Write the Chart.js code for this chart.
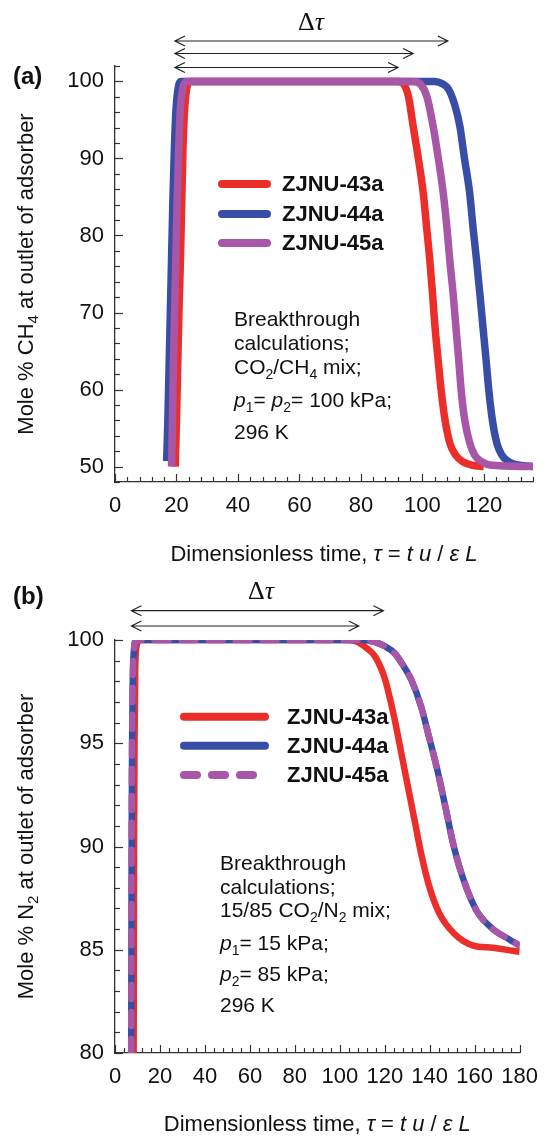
<!DOCTYPE html>
<html>
<head>
<meta charset="utf-8">
<title>Breakthrough curves</title>
<script src="https://cdn.jsdelivr.net/npm/chart.js@4.4.1/dist/chart.umd.min.js"></script>
<style>
  body { margin: 0; background: #fff; }
  #wrap { position: relative; width: 549px; height: 1136px; }
  canvas { position: absolute; left: 0; }
  #chartA { top: 0; }
  #chartB { top: 570px; }
</style>
</head>
<body>
<div id="wrap">
  <canvas id="chartA" width="549" height="570"></canvas>
  <canvas id="chartB" width="549" height="566"></canvas>
</div>
<script>
// series names (same three MOFs in both panels)
let seriesNames = ["ZJNU-43a", "ZJNU-44a", "ZJNU-45a"];

// Panel (a): CO2/CH4 mix, mole % CH4 at outlet vs dimensionless time
let tauA_43 = [19.6, 20.0, 20.4, 20.8, 21.3, 21.7, 22.1, 22.6, 23.3, 24.5, 92, 94, 95.5, 97, 98.7, 100.3, 101.4, 102.4, 103.3, 104.1, 105.1, 106.2, 107.4, 108.9, 110.8, 113.3, 116, 120];
let molA_43 = [50, 56, 63, 70, 77, 84, 91, 96, 99, 100, 100, 99.6, 98, 94.2, 90, 85.5, 81, 76.9, 72.5, 68.2, 64, 59.6, 56, 53.1, 51.5, 50.6, 50.2, 50];

let tauA_44 = [16.8, 17.2, 17.6, 18.0, 18.4, 18.8, 19.3, 19.8, 20.5, 21.5, 104, 106.5, 108.5, 110.5, 112.2, 113.7, 115.4, 116.5, 117.6, 118.7, 119.7, 120.7, 121.7, 122.8, 124.2, 125.7, 127.5, 130, 133, 136];
let molA_44 = [50.7, 56, 63, 70, 77, 84, 91, 96, 99, 100, 100, 99.7, 99, 97, 94.2, 90, 85.5, 81, 76.9, 72.5, 68.2, 64, 59.6, 56, 53.1, 51.6, 50.8, 50.3, 50.1, 50];

let tauA_45 = [18.4, 18.7, 19.0, 19.4, 19.8, 20.2, 20.7, 21.2, 22.0, 23.2, 97, 99.5, 101.5, 103.5, 105.2, 106.8, 108, 108.9, 110, 110.9, 111.8, 112.7, 113.8, 115.4, 117, 119.5, 122, 136];
let molA_45 = [50, 56, 63, 70, 77, 84, 91, 96, 99, 100, 100, 99.6, 98, 94.2, 90, 85.5, 81, 76.9, 72.5, 68.2, 64, 59.6, 56, 53.1, 51.5, 50.6, 50.2, 50];

// Panel (b): 15/85 CO2/N2 mix, mole % N2 at outlet
let tauB_43 = [8.3, 8.4, 8.5, 8.7, 9.0, 9.6, 11, 104, 108, 112, 115.7, 120.1, 124.5, 127.4, 130.3, 133.2, 136.1, 139.7, 144.1, 150.7, 159.4, 168.1, 176.9, 180];
let molB_43 = [80, 85, 90, 95, 98.5, 99.7, 100, 100, 99.9, 99.6, 99.2, 98.1, 96.1, 94.5, 92.9, 91.3, 89.7, 88.1, 86.8, 85.8, 85.2, 85.1, 84.95, 84.9];

let tauB_44 = [7.2, 7.3, 7.4, 7.6, 7.9, 8.4, 9.5, 110, 115.7, 120, 124.5, 128, 131.7, 136.1, 139.7, 143.4, 147, 150.7, 155, 160.8, 168.1, 175.4, 180];
let molB_44 = [80, 85, 90, 95, 98, 99.5, 100, 100, 99.9, 99.7, 99.35, 98.8, 98.1, 96.8, 95.3, 93.7, 91.9, 90, 88.4, 86.9, 86, 85.5, 85.2];

let tauB_45 = [7.2, 7.3, 7.4, 7.6, 7.9, 8.4, 9.5, 110, 115.7, 120, 124.5, 128, 131.7, 136.1, 139.7, 143.4, 147, 150.7, 155, 160.8, 168.1, 175.4, 180];
let molB_45 = [80, 85, 90, 95, 98, 99.5, 100, 100, 99.9, 99.7, 99.35, 98.8, 98.1, 96.8, 95.3, 93.7, 91.9, 90, 88.4, 86.9, 86, 85.5, 85.2];

// tick labels (minor ticks have no label)
let xLabelsA = [0, 20, 40, 60, 80, 100, 120];
let yLabelsA = [50, 60, 70, 80, 90, 100];
let xLabelsB = [0, 20, 40, 60, 80, 100, 120, 140, 160, 180];
let yLabelsB = [80, 85, 90, 95, 100];

const SANS = 'Arial, "Liberation Sans", sans-serif';
const SERIF = '"Times New Roman", "Liberation Serif", serif';

window.chartColors = {
  red: 'rgb(236, 46, 42)',
  blue: 'rgb(56, 78, 166)',
  purple: 'rgb(167, 86, 168)',
};

Chart.defaults.font.family = SANS;
Chart.defaults.color = '#111';

function toPoints(xs, ys) {
  return xs.map((x, i) => ({ x: x, y: ys[i] }));
}

// font for one piece of rich text
function fontFor(style, size) {
  if (style === 'i') return 'italic ' + size + 'px ' + SANS;
  if (style === 'b') return 'bold ' + size + 'px ' + SANS;
  if (style === 'sub') return Math.round(size * 0.68) + 'px ' + SANS;
  if (style === 'serif') return size + 'px ' + SERIF;
  if (style === 'iserif') return 'italic ' + size + 'px ' + SERIF;
  return size + 'px ' + SANS;
}

// draws [text, style] pieces in a row, y = middle of the normal text
function drawRich(ctx, parts, x, y, size, align) {
  let w = 0;
  parts.forEach(p => { ctx.font = fontFor(p[1], size); w += ctx.measureText(p[0]).width; });
  let cx = align === 'center' ? x - w / 2 : x;
  ctx.textAlign = 'left';
  ctx.textBaseline = 'middle';
  parts.forEach(p => {
    ctx.font = fontFor(p[1], size);
    let dy = p[1] === 'sub' ? size * 0.32 : 0;
    ctx.fillText(p[0], cx, y + dy);
    cx += ctx.measureText(p[0]).width;
  });
}

// double headed arrow with open heads
function arrow(ctx, x1, x2, y) {
  ctx.beginPath();
  ctx.moveTo(x1, y); ctx.lineTo(x2, y);
  ctx.moveTo(x1 + 10, y - 5); ctx.lineTo(x1, y); ctx.lineTo(x1 + 10, y + 5);
  ctx.moveTo(x2 - 10, y - 5); ctx.lineTo(x2, y); ctx.lineTo(x2 - 10, y + 5);
  ctx.stroke();
}

// tick marks pointing into the plot
const inwardTicks = {
  id: 'inwardTicks',
  beforeDatasetsDraw(chart, args, opts) {
    const ctx = chart.ctx;
    const xs = chart.scales.x, ys = chart.scales.y;
    ctx.save();
    ctx.strokeStyle = '#333';
    ctx.lineWidth = 1.2;
    xs.ticks.forEach(t => {
      const px = Math.round(xs.getPixelForValue(t.value)) + 0.5;
      const len = t.value % opts.majorX === 0 ? 8 : 5;
      ctx.beginPath(); ctx.moveTo(px, ys.bottom); ctx.lineTo(px, ys.bottom - len); ctx.stroke();
    });
    ys.ticks.forEach(t => {
      const py = Math.round(ys.getPixelForValue(t.value)) + 0.5;
      const len = t.value % opts.majorY === 0 ? 8 : 5;
      ctx.beginPath(); ctx.moveTo(xs.left, py); ctx.lineTo(xs.left + len, py); ctx.stroke();
    });
    ctx.restore();
  }
};

// labels, arrows, legend and notes drawn on top
const decor = {
  id: 'decor',
  afterDraw(chart, args, cfg) {
    const ctx = chart.ctx;
    const xs = chart.scales.x, ys = chart.scales.y;
    ctx.save();
    ctx.fillStyle = '#111';

    // panel letter
    ctx.font = 'bold 24px ' + SANS;
    ctx.textAlign = 'left';
    ctx.textBaseline = 'middle';
    ctx.fillText(cfg.panel, 13, cfg.panelY);

    // delta tau with arrows
    drawRich(ctx, [['\u0394', 'serif'], ['\u03c4', 'iserif']], cfg.dtX, cfg.dtY, 26, 'center');
    ctx.strokeStyle = '#222';
    ctx.lineWidth = 1.2;
    cfg.arrows.forEach(a => arrow(ctx, xs.getPixelForValue(a[0]), xs.getPixelForValue(a[1]), a[2]));

    // legend
    chart.data.datasets.forEach((ds, i) => {
      const y = cfg.legendY[i];
      const lw = 8;
      ctx.strokeStyle = ds.borderColor;
      ctx.lineWidth = lw;
      ctx.lineCap = 'round';
      ctx.setLineDash(ds.borderDash ? [13, 15] : []);
      ctx.beginPath();
      ctx.moveTo(cfg.legendX[0] + lw / 2, y);
      ctx.lineTo(cfg.legendX[1] - lw / 2, y);
      ctx.stroke();
      ctx.setLineDash([]);
      ctx.font = 'bold 22px ' + SANS;
      ctx.fillText(ds.label, cfg.legendX[2], y + 1);
    });

    // notes
    cfg.notes.forEach(n => drawRich(ctx, n[1], cfg.noteX, n[0], 21, 'left'));

    // axis titles
    let xTitle = [['Dimensionless time, ', ''], ['\u03c4', 'i'], [' = ', ''], ['t u', 'i'], [' / ', ''], ['\u03b5 L', 'i']];
    drawRich(ctx, xTitle, (xs.left + xs.right) / 2, cfg.xTitleY, 22, 'center');
    ctx.translate(27, (ys.top + ys.bottom) / 2);
    ctx.rotate(-Math.PI / 2);
    drawRich(ctx, cfg.yTitle, 0, 0, 22, 'center');
    ctx.restore();
  }
};

function axisOptions(min, max, step, labels, padding, fit) {
  return {
    type: 'linear',
    min: min,
    max: max,
    border: { display: true, color: '#333', width: 1.3 },
    grid: { display: false, drawTicks: false, tickLength: 0 },
    ticks: {
      stepSize: step,
      autoSkip: false,
      maxRotation: 0,
      padding: padding,
      color: '#111',
      font: { size: 22 },
      callback: (v) => labels.includes(v) ? String(v) : '',
    },
    afterFit: fit,
  };
}

function lineSet(name, xs, ys, color, width, order, dash) {
  return {
    label: name,
    data: toPoints(xs, ys),
    borderColor: color,
    backgroundColor: color,
    borderWidth: width,
    borderDash: dash,
    borderCapStyle: dash ? 'round' : 'butt',
    borderJoinStyle: 'round',
    pointRadius: 0,
    cubicInterpolationMode: 'monotone',
    fill: false,
    order: order,
  };
}

let ctxA = document.getElementById('chartA').getContext('2d');
let ctxB = document.getElementById('chartB').getContext('2d');

var chartA = new Chart(ctxA, {
  type: 'line',
  data: {
    datasets: [
      lineSet(seriesNames[0], tauA_43, molA_43, window.chartColors.red, 7.5, 1),
      lineSet(seriesNames[1], tauA_44, molA_44, window.chartColors.blue, 7.5, 2),
      lineSet(seriesNames[2], tauA_45, molA_45, window.chartColors.purple, 7.5, 0),
    ]
  },
  options: {
    responsive: false,
    animation: false,
    layout: { padding: { top: 66, left: 0, right: 16, bottom: 0 } },
    scales: {
      x: axisOptions(0, 136, 4, xLabelsA, 11, (s) => { s.height = 88; }),
      y: axisOptions(48, 102, 2, yLabelsA, 11, (s) => { s.width = 115; }),
    },
    plugins: {
      legend: { display: false },
      tooltip: { enabled: false },
      inwardTicks: { majorX: 20, majorY: 10 },
      decor: {
        panel: '(a)', panelY: 77,
        dtX: 311, dtY: 23,
        arrows: [[19.5, 108.3, 41], [19.5, 97, 53.5], [19.5, 92.1, 67.5]],
        legendX: [218, 271, 282], legendY: [184, 214, 243],
        noteX: 234,
        notes: [
          [320, [['Breakthrough', '']]],
          [344, [['calculations;', '']]],
          [368, [['CO', ''], ['2', 'sub'], ['/CH', ''], ['4', 'sub'], [' mix;', '']]],
          [401, [['p', 'i'], ['1', 'sub'], ['= ', ''], ['p', 'i'], ['2', 'sub'], ['= 100 kPa;', '']]],
          [433, [['296 K', '']]],
        ],
        xTitleY: 555,
        yTitle: [['Mole % CH', ''], ['4', 'sub'], [' at outlet of adsorber', '']],
      },
    }
  },
  plugins: [inwardTicks, decor]
});

var chartB = new Chart(ctxB, {
  type: 'line',
  data: {
    datasets: [
      lineSet(seriesNames[0], tauB_43, molB_43, window.chartColors.red, 6.5, 2),
      lineSet(seriesNames[1], tauB_44, molB_44, window.chartColors.blue, 6.5, 1),
      lineSet(seriesNames[2], tauB_45, molB_45, window.chartColors.purple, 6.5, 0, [14, 13]),
    ]
  },
  options: {
    responsive: false,
    animation: false,
    layout: { padding: { top: 70, left: 0, right: 20, bottom: 0 } },
    scales: {
      x: axisOptions(0, 180, 4, xLabelsB, 11, (s) => { s.height = 83; }),
      y: axisOptions(80, 100, 1, yLabelsB, 11, (s) => { s.width = 115; }),
    },
    plugins: {
      legend: { display: false },
      tooltip: { enabled: false },
      inwardTicks: { majorX: 20, majorY: 5 },
      decor: {
        panel: '(b)', panelY: 27,
        dtX: 261, dtY: 22,
        arrows: [[7.3, 119.4, 40.7], [7.3, 108.4, 56]],
        legendX: [180, 269, 287], legendY: [146.7, 175.7, 205],
        noteX: 220,
        notes: [
          [294, [['Breakthrough', '']]],
          [318, [['calculations;', '']]],
          [341, [['15/85 CO', ''], ['2', 'sub'], ['/N', ''], ['2', 'sub'], [' mix;', '']]],
          [374, [['p', 'i'], ['1', 'sub'], ['= 15 kPa;', '']]],
          [405, [['p', 'i'], ['2', 'sub'], ['= 85 kPa;', '']]],
          [436, [['296 K', '']]],
        ],
        xTitleY: 555,
        yTitle: [['Mole % N', ''], ['2', 'sub'], [' at outlet of adsorber', '']],
      },
    }
  },
  plugins: [inwardTicks, decor]
});
</script>
</body>
</html>
